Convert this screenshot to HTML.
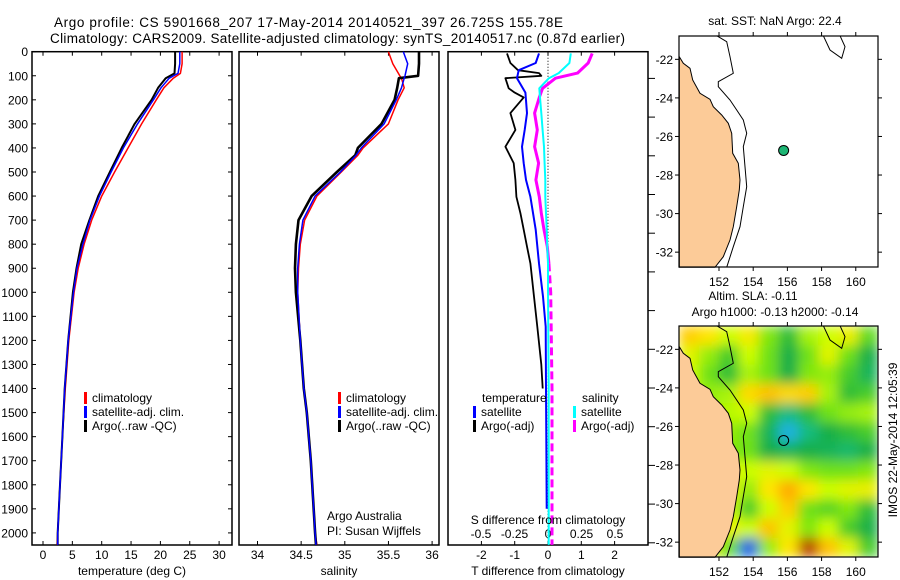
<!DOCTYPE html>
<html><head><meta charset="utf-8"><style>
html,body{margin:0;padding:0;background:#fff;}
svg{display:block;font-family:"Liberation Sans",sans-serif;}
text{fill:#000;}
</style></head><body>
<svg id="fig" width="900" height="580" viewBox="0 0 900 580">
<defs>
<clipPath id="clipMapB"><rect x="679" y="326" width="199" height="231"/></clipPath>
<filter id="blur" x="0" y="0" width="100%" height="100%"><feGaussianBlur stdDeviation="6" edgeMode="duplicate"/></filter>
</defs>
<text x="54" y="27" font-size="13.5" textLength="509">Argo profile: CS 5901668_207 17-May-2014 20140521_397 26.725S 155.78E</text>
<text x="50" y="43" font-size="13.5" textLength="575">Climatology: CARS2009. Satellite-adjusted climatology: synTS_20140517.nc (0.87d earlier)</text>
<g id="g1"></g>
<g id="g2"></g>
<g id="g3"></g>
<g id="gm1"></g>
<g id="gm2"></g>
<text transform="translate(897,440) rotate(-90)" font-size="12" text-anchor="middle">IMOS 22-May-2014 12:05:39</text>
</svg>
<script>
// ---------- data ----------
const depthT = [0,50,90,110,150,200,300,400,500,600,700,800,900,1000,1200,1400,1600,1800,2000,2050];
const tempArgo = [22.5,22.5,22.4,20.9,19.6,18.5,15.6,13.4,11.4,9.4,7.9,6.5,5.7,5.1,4.3,3.7,3.3,2.9,2.5,2.5];
const tempClim = [23.7,23.7,23.4,22.2,20.6,19.3,16.8,14.5,12.2,10.0,8.3,7.0,6.0,5.3,4.4,3.8,3.3,2.9,2.5,2.4];
const tempSat  = [23.3,23.3,23.0,21.5,20.1,18.8,16.1,13.7,11.6,9.6,8.0,6.8,5.8,5.2,4.3,3.7,3.3,2.9,2.5,2.5];
const depthS = [0,50,100,110,150,200,300,400,430,500,600,700,800,900,1000,1200,1400,1500,1700,2000,2050];
const salArgo = [35.85,35.85,35.84,35.62,35.60,35.57,35.42,35.15,35.12,34.91,34.62,34.47,34.44,34.43,34.44,34.49,34.53,34.565,34.61,34.66,34.67];
const salClim = [35.50,35.55,35.63,35.65,35.68,35.61,35.50,35.21,35.15,34.96,34.68,34.54,34.49,34.47,34.46,34.49,34.53,34.565,34.61,34.66,34.68];
const salSat  = [35.67,35.72,35.69,35.68,35.65,35.59,35.45,35.19,35.13,34.95,34.66,34.52,34.48,34.46,34.46,34.49,34.53,34.565,34.61,34.66,34.67];
const depthDT = [7,47,77,89,100,110,152,170,190,255,325,395,463,533,603,671,740,810,880,1018,1143,1300,1400];
const dTArgo = [-1.23,-1.13,-0.9,-0.27,-0.2,-1.28,-1.18,-1.0,-0.73,-1.13,-0.98,-1.28,-1.03,-0.98,-0.95,-0.83,-0.73,-0.63,-0.53,-0.42,-0.32,-0.2,-0.16];
const depthDT2 = [7,47,77,110,170,255,325,395,463,533,603,740,880,1018,1143,1400,1600,1900];
const dTSat = [-0.27,-0.37,-0.88,-0.93,-0.68,-0.63,-0.7,-0.78,-0.73,-0.66,-0.53,-0.37,-0.27,-0.15,-0.07,-0.06,-0.05,-0.04];
const depthDS = [7,47,89,110,152,190,255,325,395,463,533,603,671,740,810,880,1000,1400,2050];
const dSSat  = [0.17,0.16,0.08,0.007,-0.065,-0.06,-0.05,-0.04,-0.03,-0.025,-0.02,-0.02,-0.015,-0.01,-0.005,0,0,0.005,0.005];
const dSArgo = [0.33,0.30,0.22,0.056,-0.04,-0.065,-0.1,-0.08,-0.1,-0.07,-0.09,-0.065,-0.05,-0.03,-0.005,0.007,0.02,0.03,0.03];
const depthTicks = [0,100,200,300,400,500,600,700,800,900,1000,1100,1200,1300,1400,1500,1600,1700,1800,1900,2000];
const tempTicks = [0,5,10,15,20,25,30];
const salTicks = [34,34.5,35,35.5,36];
const dTTicks = [-2,-1,0,1,2];
const dSTicks = [-0.5,-0.25,0,0.25,0.5];
const dSTickLabels = ["-0.5","-0.25","0","0.25","0.5"];
const lonTicks = [152,154,156,158,160];
const latTicks = [-22,-24,-26,-28,-30,-32];
const argoLon = 155.78, argoLat = -26.725;
// SLA grid: rows from north (-21.3) to south (-32.3), cols from west (150.2) to east (160.7)
const slaRow0  = [0.07,0.05,0,0.04,-0.04,-0.1,-0.02,0,0.03,-0.06];
const slaRow1  = [0.02,-0.03,-0.08,0,-0.05,-0.12,-0.05,0.02,-0.05,-0.12];
const slaRow2  = [0,-0.05,-0.1,-0.02,-0.05,-0.12,-0.04,-0.03,-0.08,-0.13];
const slaRow3  = [0,-0.03,-0.02,0.06,0.08,0.06,0.07,-0.02,-0.1,-0.08];
const slaRow4  = [0,-0.02,-0.01,0,-0.1,-0.15,-0.1,-0.05,-0.03,-0.02];
const slaRow5  = [-0.02,-0.04,-0.03,-0.05,-0.13,-0.22,-0.15,-0.12,-0.1,-0.08];
const slaRow6  = [-0.02,-0.03,-0.04,-0.05,-0.12,-0.13,-0.12,-0.13,-0.14,-0.12];
const slaRow7  = [0,0,0.02,0,0.02,0,-0.04,-0.05,-0.05,-0.04];
const slaRow8  = [0,0.02,0.03,-0.03,0.05,0.1,0.05,0,0.02,0.03];
const slaRow9  = [0,0.02,0,-0.08,0,0.07,-0.05,-0.07,-0.04,-0.1];
const slaRow10 = [0,0.03,0.03,0,0.08,0.02,-0.04,0,-0.08,-0.12];
const slaRow11 = [0,0.03,-0.05,-0.27,-0.03,0.05,0.24,0.08,0.02,-0.08];
const slaGrid = [slaRow0,slaRow1,slaRow2,slaRow3,slaRow4,slaRow5,slaRow6,slaRow7,slaRow8,slaRow9,slaRow10,slaRow11];

// ---------- helpers ----------
const NS="http://www.w3.org/2000/svg";
function mk(parent,tag,attrs,txt){const e=document.createElementNS(NS,tag);for(const k in attrs)e.setAttribute(k,attrs[k]);if(txt!==undefined)e.textContent=txt;parent.appendChild(e);return e;}
const yTop=51.7, yPerM=0.2406, yBot=545;
const yD=d=>yTop+d*yPerM;
const xT=v=>43+v*5.87;
const xS=v=>257.5+(v-34)*87.3;
const xDT=v=>548+v*33.3;
const xDS=v=>548+v*134;
function pathOf(xs,ds,fx){return xs.map((v,i)=>(i?'L':'M')+fx(v).toFixed(1)+','+yD(ds[i]).toFixed(1)).join('');}

function frame(g,x0,x1){
  const r=mk(g,'rect',{x:x0,y:yTop,width:x1-x0,height:yBot-yTop,fill:'none',stroke:'#000','stroke-width':1.5});
  
  
}
function line(g,vals,ds,fx,color,w,name,dash){
  const p=mk(g,'path',{d:pathOf(vals,ds,fx),fill:'none',stroke:color,'stroke-width':w,'stroke-linejoin':'round'});
  if(dash)p.setAttribute('stroke-dasharray',dash);
  
  
}
function legend(g,x,y,color,label,name){
  const r=mk(g,'rect',{x:x,y:y-10,width:3,height:12,fill:color});
  
  
  const t=mk(g,'text',{x:x+8,y:y,'font-size':12},label);
  
  
}

// ---------- panel 1 ----------
const g1=document.getElementById('g1');
frame(g1,32,232);
depthTicks.forEach(d=>{
  const y=yD(d);
  mk(g1,'line',{x1:32,x2:36,y1:y,y2:y,stroke:'#000'});
  mk(g1,'line',{x1:228,x2:232,y1:y,y2:y,stroke:'#000'});
  const t=mk(g1,'text',{x:28,y:y+4.5,'font-size':12,'text-anchor':'end'},String(d));
  
  
});
tempTicks.forEach(v=>{
  const x=xT(v);
  mk(g1,'line',{x1:x,x2:x,y1:yBot,y2:yBot-4,stroke:'#000'});
  mk(g1,'line',{x1:x,x2:x,y1:yTop,y2:yTop+4,stroke:'#000'});
  const t=mk(g1,'text',{x:x,y:559,'font-size':12,'text-anchor':'middle'},String(v));
  
  
});
line(g1,tempClim,depthT,xT,'#ff0000',1.5,'temperature-climatology-line');
line(g1,tempArgo,depthT,xT,'#000',2,'temperature-argo-line');
line(g1,tempSat,depthT,xT,'#0000ff',1.5,'temperature-satellite-line');
legend(g1,84,402,'#ff0000','climatology','legend-climatology');
legend(g1,84,416,'#0000ff','satellite-adj. clim.','legend-satellite');
legend(g1,84,430,'#000','Argo(..raw -QC)','legend-argo');
{const t=mk(g1,'text',{x:132,y:575,'font-size':12,'text-anchor':'middle'},'temperature (deg C)');
}

// ---------- panel 2 ----------
const g2=document.getElementById('g2');
frame(g2,239,439);
salTicks.forEach(v=>{
  const x=xS(v);
  mk(g2,'line',{x1:x,x2:x,y1:yBot,y2:yBot-4,stroke:'#000'});
  mk(g2,'line',{x1:x,x2:x,y1:yTop,y2:yTop+4,stroke:'#000'});
  const t=mk(g2,'text',{x:x,y:559,'font-size':12,'text-anchor':'middle'},String(v));
  
  
});
line(g2,salClim,depthS,xS,'#ff0000',1.5,'salinity-climatology-line');
line(g2,salArgo,depthS,xS,'#000',2.6,'salinity-argo-line');
line(g2,salSat,depthS,xS,'#0000ff',1.5,'salinity-satellite-line');
legend(g2,338,402,'#ff0000','climatology','legend2-climatology');
legend(g2,338,416,'#0000ff','satellite-adj. clim.','legend2-satellite');
legend(g2,338,430,'#000','Argo(..raw -QC)','legend2-argo');
{let t=mk(g2,'text',{x:327,y:520,'font-size':12},'Argo Australia');
t=mk(g2,'text',{x:327,y:535,'font-size':12},'PI: Susan Wijffels');
t=mk(g2,'text',{x:339,y:575,'font-size':12,'text-anchor':'middle'},'salinity');}

// ---------- panel 3 ----------
const g3=document.getElementById('g3');
frame(g3,448,648);
mk(g3,'line',{x1:xDT(0),x2:xDT(0),y1:yTop,y2:yBot,stroke:'#000','stroke-dasharray':'1,2'});
dTTicks.forEach(v=>{
  const x=xDT(v);
  mk(g3,'line',{x1:x,x2:x,y1:yBot,y2:yBot-4,stroke:'#000'});
  mk(g3,'line',{x1:x,x2:x,y1:yTop,y2:yTop+4,stroke:'#000'});
  const t=mk(g3,'text',{x:x,y:559,'font-size':12,'text-anchor':'middle'},String(v));
  
  
});
dSTicks.forEach((v,i)=>{
  const t=mk(g3,'text',{x:xDS(v),y:538,'font-size':12,'text-anchor':'middle'},dSTickLabels[i]);
  
  
});
for(let y=388;y>yTop;y-=38.7){mk(g3,'line',{x1:648,x2:655,y1:y,y2:y,stroke:'#000'});}
for(let y=426.7;y<yBot;y+=38.7){mk(g3,'line',{x1:648,x2:655,y1:y,y2:y,stroke:'#000'});}
line(g3,dTArgo,depthDT,xDT,'#000',1.8,'t-diff-argo-line');
line(g3,dSArgo.slice(0,16),depthDS.slice(0,16),xDS,'#ff00ff',3,'s-diff-argo-line');
line(g3,dSArgo.slice(15),depthDS.slice(15),xDS,'#ff00ff',3,'s-diff-argo-dashed-line','8,4');
line(g3,dSSat,depthDS,xDS,'#00ffff',2,'s-diff-satellite-line');
line(g3,dTSat,depthDT2,xDT,'#0000ff',2,'t-diff-satellite-line');
{let t=mk(g3,'text',{x:482,y:402,'font-size':12},'temperature');
t=mk(g3,'text',{x:582,y:402,'font-size':12},'salinity');}
legend(g3,473,416,'#0000ff','satellite','legend3-t-satellite');
legend(g3,473,430,'#000','Argo(-adj)','legend3-t-argo');
legend(g3,573,416,'#00ffff','satellite','legend3-s-satellite');
legend(g3,573,430,'#ff00ff','Argo(-adj)','legend3-s-argo');
{let t=mk(g3,'text',{x:548,y:524,'font-size':12,'text-anchor':'middle'},'S difference from climatology');
t=mk(g3,'text',{x:548,y:575,'font-size':12,'text-anchor':'middle'},'T difference from climatology');}

// ---------- maps ----------
const mapL=679,mapR=878,lon0=149.66,lon1=161.3,lat0=-20.79,lat1=-32.77;
const mx=lon=>mapL+(lon-lon0)/(lon1-lon0)*(mapR-mapL);
function my(top){return lat=>top+(lat-lat0)/(lat1-lat0)*231;}
const coastZ=[[88,170],[100,190],[120,205],[128,240],[150,280],[180,298],[190,320],[215,345],[235,370],[245,400],[248,460],[265,490],[270,540],[268,570],[260,620],[250,680],[240,720],[220,770],[195,802],[88,802]];
const isoZ=[[200,107],[230,125],[240,170],[250,220],[205,245],[205,260],[240,300],[260,330],[280,360],[290,400],[280,440],[285,500],[290,560],[280,620],[270,680],[250,740],[230,802]];
const isoZ2=[[520,107],[540,150],[575,175],[585,140],[570,107]];
function zpts(arr,top){return arr.map(p=>(650+p[0]/3).toFixed(1)+','+(top+p[1]/3-36).toFixed(1)).join(' ');}
function drawMap(g,top,withSLA){
  const fy=my(top);
  if(withSLA){
    const hg=mk(g,'g',{'clip-path':'url(#clipMapB)'});
    const hb=mk(hg,'g',{filter:'url(#blur)'});
    const cw=(mapR-mapL)/10, ch=231/12;
    slaGrid.forEach((row,r)=>row.forEach((v,c)=>{
      const cell=mk(hb,'rect',{x:(mapL+c*cw).toFixed(1),y:(top+r*ch).toFixed(1),width:(cw+0.6).toFixed(1),height:(ch+0.6).toFixed(1),fill:slaColor(v)});
      
      
    }));
  }
  const land=mk(g,'polygon',{points:zpts(coastZ,top),fill:'#fccb98',stroke:'#000','stroke-width':1});
  
  
  const iso=mk(g,'polyline',{points:zpts(isoZ,top),fill:'none',stroke:'#000','stroke-width':1});
  
  
  mk(g,'polyline',{points:zpts(isoZ2,top),fill:'none',stroke:'#000','stroke-width':1});
  const dot=mk(g,'circle',{cx:mx(argoLon),cy:fy(argoLat),r:5,fill:withSLA?'none':'#1db574',stroke:'#000','stroke-width':1});
  
  
  const fr=mk(g,'rect',{x:mapL,y:top,width:mapR-mapL,height:231,fill:'none',stroke:'#000','stroke-width':1.2});
  
  
  lonTicks.forEach(v=>{
    const x=mx(v);
    mk(g,'line',{x1:x,x2:x,y1:top,y2:top-4,stroke:'#000'});
    mk(g,'line',{x1:x,x2:x,y1:top+231,y2:top+235,stroke:'#000'});
    const t=mk(g,'text',{x:x,y:top+250,'font-size':12,'text-anchor':'middle'},String(v));
    
    
  });
  latTicks.forEach(v=>{
    const y=fy(v);
    mk(g,'line',{x1:mapL,x2:mapL-4,y1:y,y2:y,stroke:'#000'});
    mk(g,'line',{x1:mapR,x2:mapR+4,y1:y,y2:y,stroke:'#000'});
    const t=mk(g,'text',{x:mapL-6,y:y+4.5,'font-size':12,'text-anchor':'end'},String(v));
    
    
  });
}
function slaColor(v){
  const stops=[[-0.3,[20,50,230]],[-0.2,[30,210,220]],[-0.12,[20,175,70]],[-0.05,[110,225,20]],[0,[205,255,0]],[0.05,[255,230,0]],[0.1,[255,170,0]],[0.2,[215,90,0]],[0.3,[140,35,10]]];
  if(v<=stops[0][0])return 'rgb('+stops[0][1]+')';
  for(let i=1;i<stops.length;i++){if(v<=stops[i][0]){const a=stops[i-1],b=stops[i],f=(v-a[0])/(b[0]-a[0]);
    return 'rgb('+a[1].map((c,k)=>Math.round(c+(b[1][k]-c)*f)).join(',')+')';}}
  return 'rgb('+stops[stops.length-1][1]+')';
}
drawMap(document.getElementById('gm1'),36,false);
drawMap(document.getElementById('gm2'),326,true);
{const svg=document.getElementById('fig');
let t=mk(svg,'text',{x:775,y:25,'font-size':12,'text-anchor':'middle'},'sat. SST: NaN Argo: 22.4');
t=mk(svg,'text',{x:753,y:300,'font-size':12,'text-anchor':'middle'},'Altim. SLA: -0.11');
t=mk(svg,'text',{x:775,y:316,'font-size':12,'text-anchor':'middle'},'Argo h1000: -0.13 h2000: -0.14');}
</script>
</body></html>
